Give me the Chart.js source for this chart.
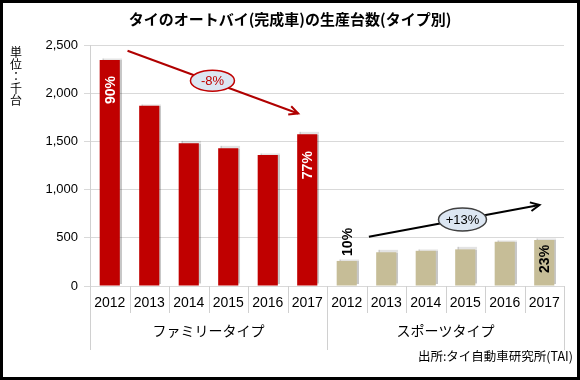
<!DOCTYPE html>
<html>
<head>
<meta charset="utf-8">
<script src="https://cdn.jsdelivr.net/npm/chart.js@4"></script>
<style>
  html, body { margin: 0; padding: 0; background: #fff; }
  #wrap { width: 580px; height: 380px; }
</style>
</head>
<body>
<div id="wrap"><canvas id="prodChart" width="580" height="380"></canvas></div>
<script>
var chartTitle = 'タイのオートバイ(完成車)の生産台数(タイプ別)'
var unitLabel = ['単', '位', '：', '千', '台']
var sourceNote = '出所:タイ自動車研究所(TAI)'
var years = ['2012', '2013', '2014', '2015', '2016', '2017']
var groups = ['ファミリータイプ', 'スポーツタイプ']
var familyValues = [2345, 1870, 1480, 1430, 1360, 1575]
var sportValues = [260, 350, 365, 380, 460, 478]
var yTicks = [0, 500, 1000, 1500, 2000, 2500]
var shareLabels = ['90%', '', '', '', '', '77%', '10%', '', '', '', '', '23%']
var trendLabels = ['-8%', '+13%']

var latin = '"Liberation Sans", Arial, "Noto Sans CJK JP", sans-serif'
var jp = '"Noto Sans CJK JP", "Liberation Sans", sans-serif'
var red = '#C00000'
var tan = '#C6BD97'

var allLabels = years.concat(years)
var allValues = familyValues.concat(sportValues)
var barColors = familyValues.map(function () { return red }).concat(sportValues.map(function () { return tan }))

// label placement: offset of label centre from bar top (px), colour
var labelStyle = [
    { offset: 30, color: '#fff' }, null, null, null, null,
    { offset: 31, color: '#fff' },
    { offset: -19, color: '#000' }, null, null, null, null,
    { offset: 19, color: '#000' }
]

// trend arrows in data units (category index, value)
var trends = [
    { from: [0.45, 2440], to: [4.77, 1790], at: [2.6, 2130], w: 44, h: 21, line: '#B00000', edge: '#C00000', text: '#C00000' },
    { from: [6.56, 510], to: [10.88, 840], at: [8.93, 690], w: 48, h: 23, line: '#000', edge: '#404040', text: '#000' }
]

var shadowPlugin = {
    id: 'barShadow',
    beforeDatasetsDraw: function (chart) {
        var ctx = chart.ctx
        ctx.save()
        ctx.shadowColor = 'rgba(0,0,0,0.22)'
        ctx.shadowBlur = 1
        ctx.shadowOffsetX = 2
        ctx.shadowOffsetY = -2
    },
    afterDatasetsDraw: function (chart) {
        chart.ctx.restore()
    }
}

var decorPlugin = {
    id: 'decor',
    afterDatasetsDraw: function (chart) {
        var ctx = chart.ctx
        var meta = chart.getDatasetMeta(0)
        ctx.save()
        ctx.font = 'bold 14px ' + latin
        ctx.textAlign = 'center'
        ctx.textBaseline = 'middle'
        shareLabels.forEach(function (txt, i) {
            if (!txt) return
            var bar = meta.data[i]
            var st = labelStyle[i]
            ctx.save()
            ctx.translate(bar.x, bar.y + st.offset)
            ctx.rotate(-Math.PI / 2)
            ctx.fillStyle = st.color
            ctx.fillText(txt, 0, 1)
            ctx.restore()
        })
        ctx.restore()
    },
    afterDraw: function (chart) {
        var ctx = chart.ctx
        var xs = chart.scales.x
        var ys = chart.scales.y
        var area = chart.chartArea
        ctx.save()

        // title
        ctx.fillStyle = '#000'
        ctx.font = 'bold 15px ' + jp
        ctx.textAlign = 'center'
        ctx.textBaseline = 'middle'
        ctx.fillText(chartTitle, 290, 19)

        // unit label, stacked vertically
        ctx.font = '12px ' + jp
        unitLabel.forEach(function (ch, i) {
            ctx.fillText(ch, 16, 52 + i * 12)
        })

        // category separators below the axis
        ctx.strokeStyle = '#d0d0d0'
        ctx.lineWidth = 1
        for (var i = 0; i <= allLabels.length; i++) {
            var px = Math.round(xs.getPixelForValue(i - 0.5)) + 0.5
            var long = (i % years.length === 0)
            ctx.beginPath()
            ctx.moveTo(px, area.bottom)
            ctx.lineTo(px, long ? area.bottom + 64 : area.bottom + 27)
            ctx.stroke()
        }

        // group labels
        ctx.fillStyle = '#000'
        ctx.font = '14px ' + jp
        groups.forEach(function (g, k) {
            var mid = xs.getPixelForValue(k * years.length + (years.length - 1) / 2)
            ctx.fillText(g, mid, area.bottom + 45)
        })

        // trend arrows
        trends.forEach(function (t, k) {
            var x1 = xs.getPixelForValue(t.from[0]), y1 = ys.getPixelForValue(t.from[1])
            var x2 = xs.getPixelForValue(t.to[0]), y2 = ys.getPixelForValue(t.to[1])
            ctx.strokeStyle = t.line
            ctx.lineWidth = 2
            ctx.beginPath()
            ctx.moveTo(x1, y1)
            ctx.lineTo(x2, y2)
            ctx.stroke()
            var ang = Math.atan2(y2 - y1, x2 - x1)
            var hl = 10
            ctx.beginPath()
            ctx.moveTo(x2 - hl * Math.cos(ang - 0.45), y2 - hl * Math.sin(ang - 0.45))
            ctx.lineTo(x2, y2)
            ctx.lineTo(x2 - hl * Math.cos(ang + 0.45), y2 - hl * Math.sin(ang + 0.45))
            ctx.stroke()

            var cx = xs.getPixelForValue(t.at[0]), cy = ys.getPixelForValue(t.at[1])
            ctx.beginPath()
            ctx.ellipse(cx, cy, t.w / 2, t.h / 2, 0, 0, Math.PI * 2)
            ctx.fillStyle = '#DCE6F2'
            ctx.fill()
            ctx.lineWidth = 1.5
            ctx.strokeStyle = t.edge
            ctx.stroke()
            ctx.fillStyle = t.text
            ctx.font = '13px ' + latin
            ctx.fillText(trendLabels[k], cx, cy + 1)
        })

        // source note
        ctx.fillStyle = '#000'
        ctx.font = '12.5px ' + jp
        ctx.textAlign = 'right'
        ctx.fillText(sourceNote, 573, 356)

        // outer frame
        ctx.strokeStyle = '#000'
        ctx.lineWidth = 3
        ctx.strokeRect(1.5, 1.5, 577, 377)
        ctx.restore()
    }
}

var prodChart = new Chart(document.getElementById('prodChart').getContext('2d'), {
    type: 'bar',
    data: {
        labels: allLabels,
        datasets: [{
            data: allValues,
            backgroundColor: barColors,
            borderWidth: 0,
            barPercentage: 0.51,
            categoryPercentage: 1.0
        }]
    },
    options: {
        responsive: false,
        animation: false,
        layout: { padding: { top: 45, right: 16, left: 0, bottom: 0 } },
        plugins: {
            legend: { display: false },
            title: { display: false },
            tooltip: { enabled: false }
        },
        scales: {
            x: {
                grid: { display: false },
                border: { display: false },
                ticks: {
                    color: '#000',
                    font: { family: latin, size: 14 },
                    padding: 1,
                    maxRotation: 0,
                    autoSkip: false
                },
                afterFit: function (scale) { scale.height = 94 }
            },
            y: {
                min: 0,
                max: 2500,
                afterBuildTicks: function (scale) {
                    scale.ticks = yTicks.map(function (v) { return { value: v } })
                },
                grid: { color: '#d9d9d9', tickLength: 6 },
                border: { display: true, color: '#d0d0d0' },
                ticks: {
                    color: '#000',
                    font: { family: latin, size: 13 },
                    padding: 6,
                    callback: function (v) { return v.toLocaleString('en-US') }
                },
                afterFit: function (scale) { scale.width = 90 }
            }
        }
    },
    plugins: [shadowPlugin, decorPlugin]
})
</script>
</body>
</html>
